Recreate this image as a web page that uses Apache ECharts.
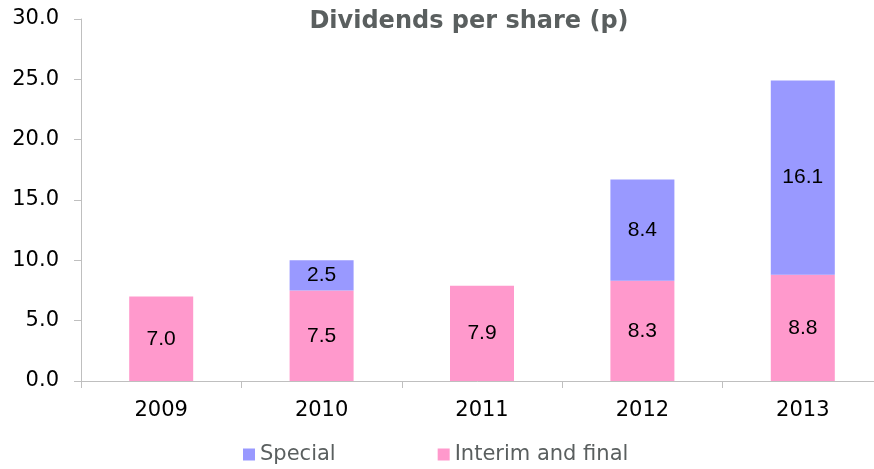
<!DOCTYPE html>
<html>
<head>
<meta charset="utf-8">
<script src="https://cdn.jsdelivr.net/npm/echarts@6/dist/echarts.min.js"></script>
<style>
  html, body { margin: 0; padding: 0; background: #fff; }
  #viz { width: 874px; height: 469px; }
</style>
</head>
<body>
<div id="viz"></div>
<script>
const years = ['2009', '2010', '2011', '2012', '2013']
const interimFinal = [7.0, 7.5, 7.9, 8.3, 8.8]
const special = [null, 2.5, null, 8.4, 16.1]

const font = 'DejaVu Sans'
const labelFont = 'Liberation Sans'
const myChart = echarts.init(document.getElementById('viz'))

const barLabel = {
  show: true,
  position: 'inside',
  fontFamily: labelFont,
  fontSize: 21,
  color: '#000',
  formatter: (p) => p.value.toFixed(1),
}

myChart.setOption({
  animation: false,
  textStyle: { fontFamily: font },
  title: {
    text: 'Dividends per share (p)',
    left: 464,
    textAlign: 'center',
    top: 5,
    textStyle: { fontFamily: font, fontSize: 24, fontWeight: 'bold', color: '#5a5f5f' },
  },
  // v6 would otherwise shrink the grid to keep the axis inside the canvas
  grid: { left: 81, width: 802, top: 19, bottom: 88, outerBoundsMode: 'none' },
  legend: {
    top: 444,
    left: 243,
    itemWidth: 12,
    itemHeight: 12,
    itemGap: 102,
    icon: 'rect',
    padding: 0,
    textStyle: { fontFamily: font, fontSize: 21, color: '#5a5f5f' },
    data: ['Special', 'Interim and final'],
  },
  xAxis: {
    type: 'category',
    data: years,
    axisLine: { lineStyle: { color: '#bfbfbf', width: 1 } },
    axisTick: { show: true, length: 7, lineStyle: { color: '#bfbfbf' } },
    axisLabel: { fontFamily: font, fontSize: 21, color: '#000', margin: 19 },
  },
  yAxis: {
    type: 'value',
    min: 0,
    max: 30,
    interval: 5,
    splitLine: { show: false },
    axisLine: { show: true, lineStyle: { color: '#bfbfbf', width: 1 } },
    axisTick: { show: true, length: 7, lineStyle: { color: '#bfbfbf' } },
    axisLabel: {
      fontFamily: font, fontSize: 21, color: '#000', margin: 22,
      formatter: (v) => v.toFixed(1),
    },
  },
  series: [
    {
      name: 'Interim and final',
      type: 'bar',
      stack: 'total',
      data: interimFinal,
      barWidth: 64,
      itemStyle: { color: '#ff99cc' },
      label: barLabel,
    },
    {
      name: 'Special',
      type: 'bar',
      stack: 'total',
      data: special,
      barWidth: 64,
      itemStyle: { color: '#9999ff' },
      label: barLabel,
    },
  ],
})
</script>
</body>
</html>
